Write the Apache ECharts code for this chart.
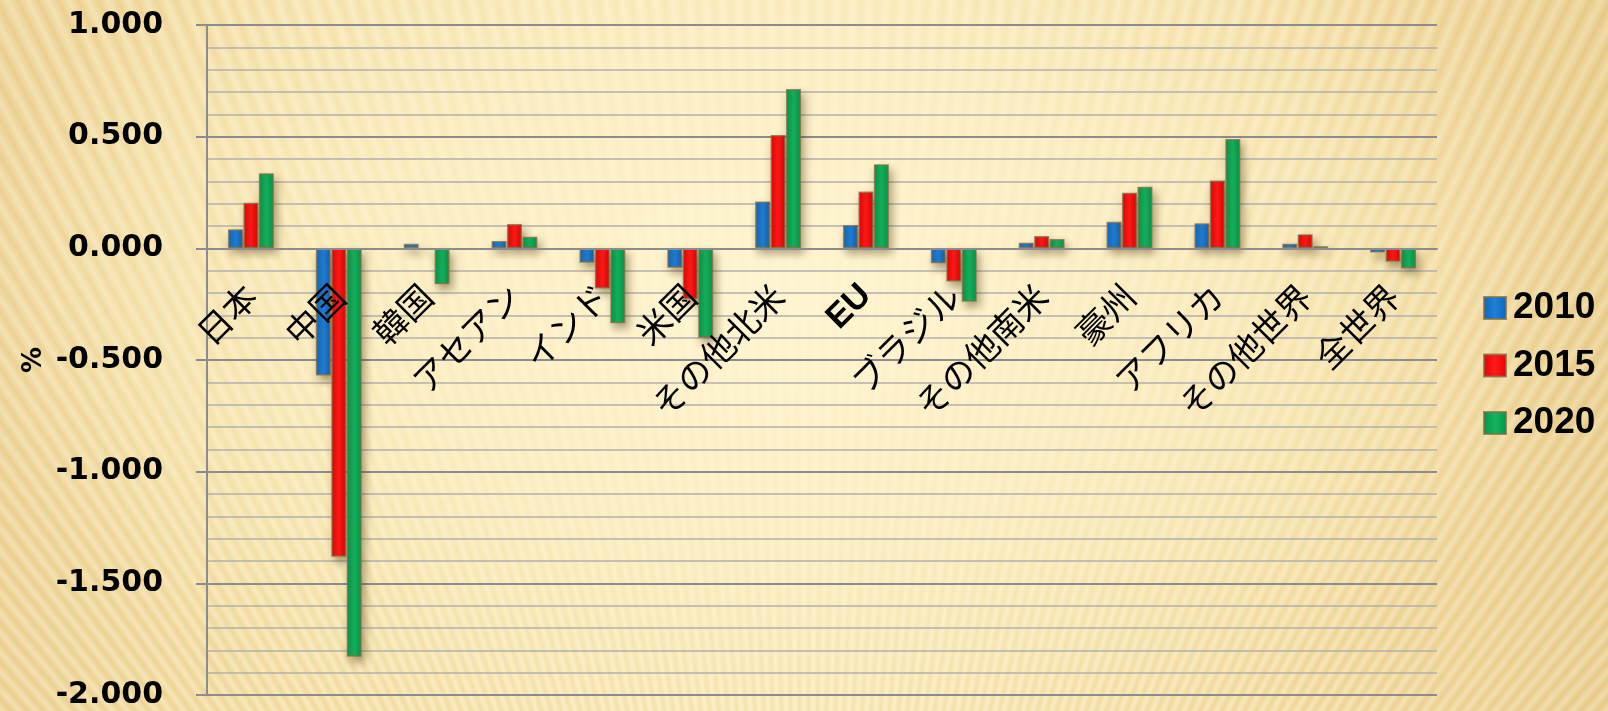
<!DOCTYPE html>
<html>
<head>
<meta charset="utf-8">
<script src="https://cdn.jsdelivr.net/npm/echarts@6/dist/echarts.min.js"></script>
<style>
  html, body { margin: 0; padding: 0; width: 1608px; height: 711px; overflow: hidden; }
  body {
    background:
      radial-gradient(ellipse 60% 80% at 48% 42%, rgba(255,246,212,0.9) 0%, rgba(255,244,205,0.6) 45%, rgba(255,240,200,0) 85%),
      repeating-conic-gradient(from 0deg at 50% 220%, rgba(255,248,220,0.35) 0deg, rgba(225,190,115,0.25) 0.3deg, rgba(255,248,220,0.35) 0.6deg),
      linear-gradient(90deg, #ecd396 0%, #f5e2ab 18%, #f9e9bb 50%, #f3dea5 80%, #e8cc8c 100%);
  }
  #chart { width: 1608px; height: 711px; }
</style>
</head>
<body>
<div id="chart"></div>
<script>
const categories = ['日本','中国','韓国','アセアン','インド','米国','その他北米','EU','ブラジル','その他南米','豪州','アフリカ','その他世界','全世界'];
const seriesNames = ['2010','2015','2020'];
const v2010 = [0.085, -0.569, 0.020, 0.033, -0.064, -0.087, 0.210, 0.104, -0.067, 0.025, 0.119, 0.112, 0.021, -0.019];
const v2015 = [0.204, -1.381, -0.005, 0.109, -0.180, -0.228, 0.507, 0.254, -0.149, 0.055, 0.249, 0.304, 0.063, -0.060];
const v2020 = [0.336, -1.829, -0.161, 0.052, -0.336, -0.400, 0.713, 0.376, -0.239, 0.042, 0.276, 0.490, 0.010, -0.090];
const yTicks = { min: -2, max: 1, interval: 0.5 };

const GRID_TOP = 25, GRID_BOTTOM = 16, CH = 711;
// distance of the zero line above the bottom edge of the plot
const zeroOffset = (CH - GRID_TOP - GRID_BOTTOM) * (0 - yTicks.min) / (yTicks.max - yTicks.min);

function barGrad(edge, mid) {
  return new echarts.graphic.LinearGradient(0, 0, 1, 0, [
    { offset: 0, color: edge },
    { offset: 0.5, color: mid },
    { offset: 1, color: edge }
  ]);
}
const colors = [
  ['#0d66bd', '#1f7fd6'],
  ['#e80000', '#ff1a1a'],
  ['#009647', '#14b35f']
];
const values = [v2010, v2015, v2020];

const chart = echarts.init(document.getElementById('chart'), null, { renderer: 'canvas' });
const option = {
  animation: false,
  backgroundColor: 'transparent',
  grid: { left: 207, right: 171, top: GRID_TOP, bottom: GRID_BOTTOM, containLabel: false, outerBoundsMode: 'none' },
  legend: {
    orient: 'vertical',
    left: 1478,
    top: 283,
    itemWidth: 22,
    itemHeight: 22,
    itemGap: 17.5,
    icon: 'rect',
    textStyle: { fontFamily: 'Liberation Sans', fontSize: 37, fontWeight: 'bold', color: '#000', lineHeight: 40, padding: [0, 0, 0, 2] },
    data: seriesNames
  },
  xAxis: {
    type: 'category',
    data: categories,
    position: 'bottom',
    offset: -zeroOffset,
    z: 10,
    axisLine: { onZero: false, lineStyle: { color: '#8c8c8c', width: 2 } },
    axisTick: { show: false },
    axisLabel: {
      interval: 0,
      rotate: 45,
      margin: 42,
      hideOverlap: false,
      fontFamily: 'Noto Sans CJK JP',
      fontSize: 34,
      color: '#000',
      formatter: function (v) { return v === 'EU' ? '{b|' + v + '}' : v; },
      rich: { b: { fontFamily: 'Liberation Sans', fontWeight: 'bold', fontSize: 34, color: '#000' } }
    }
  },
  yAxis: {
    type: 'value',
    min: yTicks.min,
    max: yTicks.max,
    interval: yTicks.interval,
    name: '%',
    nameLocation: 'middle',
    nameRotate: 90,
    nameGap: 160,
    nameMoveOverlap: false,
    nameTextStyle: { fontFamily: 'DejaVu Sans', fontWeight: 'bold', fontSize: 26, color: '#000' },
    axisLine: { show: true, lineStyle: { color: '#8c8c8c', width: 2 } },
    axisTick: { show: true, length: 11, lineStyle: { color: '#8c8c8c', width: 2 } },
    axisLabel: {
      margin: 44,
      fontFamily: 'DejaVu Sans',
      fontWeight: 'bold',
      fontSize: 30,
      color: '#000',
      formatter: function (v) { return v.toFixed(3); }
    },
    splitLine: { show: true, lineStyle: { color: '#8c8c8c', width: 2 } },
    minorTick: { show: false, splitNumber: 5 },
    minorSplitLine: { show: true, lineStyle: { color: '#b3b0aa', width: 1.5 } }
  },
  series: seriesNames.map(function (name, i) {
    return {
      name: name,
      type: 'bar',
      data: values[i],
      barWidth: 15,
      barGap: '3%',
      itemStyle: {
        color: barGrad(colors[i][0], colors[i][1]),
        borderColor: 'rgba(130,110,70,0.75)',
        borderWidth: 1.5,
        shadowColor: 'rgba(70,50,10,0.45)',
        shadowBlur: 8,
        shadowOffsetX: 3,
        shadowOffsetY: 5
      }
    };
  })
};
chart.setOption(option);
</script>
</body>
</html>
